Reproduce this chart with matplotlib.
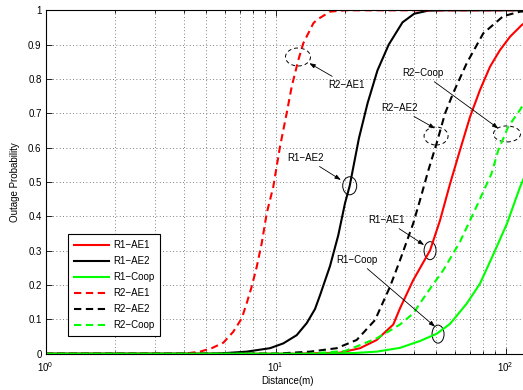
import matplotlib
matplotlib.use("Agg")
import matplotlib.pyplot as plt
from matplotlib.patches import Ellipse
from matplotlib.transforms import ScaledTranslation
from matplotlib.ticker import LogLocator, FixedLocator, NullFormatter

plt.rcParams['font.family'] = ['Liberation Sans', 'DejaVu Sans']
plt.rcParams['mathtext.fontset'] = 'custom'
plt.rcParams['mathtext.rm'] = 'Liberation Sans'
plt.rcParams['mathtext.it'] = 'Liberation Sans:italic'

# ---- data ----
r1_ae1_d = [1, 12, 19.04, 23.26, 27.49, 32.45, 34.7, 39.6, 46.9, 51.8, 57.3, 63.3, 70.0, 77.3, 85.5, 94.4, 104.4, 117.4, 125]
r1_ae1_p = [0, 0, 0.003, 0.016, 0.04, 0.085, 0.132, 0.214, 0.301, 0.388, 0.495, 0.593, 0.69, 0.768, 0.836, 0.884, 0.923, 0.957, 0.97]

r1_ae2_d = [1, 5.5, 7.48, 9.44, 10.79, 12.34, 13.64, 14.82, 15.58, 17.22, 18.71, 20.01, 20.98, 23.0, 25.1, 27.7, 31.0, 35.6, 40.0, 46.0, 55, 125]
r1_ae2_p = [0, 0, 0.006, 0.016, 0.030, 0.054, 0.089, 0.13, 0.17, 0.255, 0.345, 0.438, 0.489, 0.627, 0.73, 0.825, 0.90, 0.965, 0.99, 0.999, 1, 1]

r1_coop_d = [1, 15, 22, 27.5, 34.7, 42.4, 50.1, 57.3, 67.7, 77.3, 88.6, 101.3, 115.4, 125]
r1_coop_p = [0, 0, 0.002, 0.006, 0.017, 0.037, 0.058, 0.087, 0.146, 0.204, 0.291, 0.379, 0.485, 0.54]

r2_ae1_d = [1, 4.0, 4.69, 5.27, 5.92, 6.54, 7.12, 7.48, 7.86, 8.27, 8.69, 9.14, 9.76, 10.44, 11.16, 11.74, 12.54, 13.18, 14.57, 15.07, 17.22, 20, 125]
r2_ae1_p = [0, 0, 0.006, 0.016, 0.032, 0.064, 0.103, 0.147, 0.195, 0.253, 0.321, 0.409, 0.486, 0.603, 0.700, 0.778, 0.855, 0.904, 0.962, 0.972, 0.996, 1.0, 1.0]

r2_ae2_d = [1, 10, 14.1, 18.42, 22.5, 27.03, 31.4, 34.7, 39.6, 42.4, 46.1, 50.1, 54.5, 59.2, 67.7, 79.9, 97.6, 115.4, 125]
r2_ae2_p = [0, 0, 0.006, 0.016, 0.04, 0.098, 0.195, 0.272, 0.379, 0.447, 0.534, 0.613, 0.70, 0.76, 0.846, 0.933, 0.983, 0.996, 0.998]

r2_coop_d = [1, 14, 20, 23.26, 27.5, 31.0, 34.7, 39.6, 45.3, 53.5, 63.2, 74.5, 86.7, 92.9, 102.6, 115.4, 125]
r2_coop_p = [0, 0, 0.008, 0.025, 0.045, 0.065, 0.085, 0.117, 0.175, 0.243, 0.325, 0.427, 0.524, 0.593, 0.661, 0.71, 0.75]

labels = ['R1\u2212AE1', 'R1\u2212AE2', 'R1\u2212Coop', 'R2\u2212AE1', 'R2\u2212AE2', 'R2\u2212Coop']

# annotations: (label, text pos, arrow head, ellipse centre, ellipse size px, dashed)
annots = [
    ('R2\u2212AE1', (20.4, 0.783), (14.0, 0.846), (12.5, 0.864), (25, 18), True),
    ('R1\u2212AE2', (13.54, 0.570), (19.2, 0.506), (20.98, 0.489), (14, 18), False),
    ('R2\u2212AE2', (34.4, 0.7155), (49.3, 0.656), (49.8, 0.634), (24, 18), True),
    ('R2\u2212Coop', (43.5, 0.817), (92.9, 0.656), (101.3, 0.640), (27, 16), True),
    ('R1\u2212AE1', (30.2, 0.389), (44.2, 0.3165), (46.9, 0.30), (12, 18), False),
    ('R1\u2212Coop', (22.6, 0.273), (49.3, 0.0786), (50.8, 0.057), (12, 18), False),
]

W, H, DPI = 523, 390, 100
fig = plt.figure(figsize=(W / DPI, H / DPI), dpi=DPI)
left, bottom = 45.7 / W, 36.3 / H
width, height = 483.0 / W, 343.4 / H
ax = fig.add_axes([left, bottom, width, height])

lw = 1.5
dash = (3.5, 2.2)
ax.plot(r1_ae1_d, r1_ae1_p, color='red', lw=lw, label=labels[0])
ax.plot(r1_ae2_d, r1_ae2_p, color='black', lw=lw, label=labels[1])
ax.plot(r1_coop_d, r1_coop_p, color=(0, 1, 0), lw=lw, label=labels[2])
ax.plot(r2_ae1_d, r2_ae1_p, color='red', lw=lw, dashes=dash, label=labels[3])
ax.plot(r2_ae2_d, r2_ae2_p, color='black', lw=lw, dashes=dash, label=labels[4])
ax.plot(r2_coop_d, r2_coop_p, color=(0, 1, 0), lw=lw, dashes=dash, label=labels[5])

ax.set_xscale('log')
ax.set_xlim(1, 10 ** 2.1)
ax.set_ylim(0, 1)
ax.set_yticks([i / 10 for i in range(11)])
ax.set_yticklabels(['0', '0.1', '0.2', '0.3', '0.4', '0.5', '0.6', '0.7', '0.8', '0.9', '1'])
ax.xaxis.set_major_locator(FixedLocator([1, 10, 100]))
ax.set_xticklabels(['$\\mathdefault{10^{0}}$', '$\\mathdefault{10^{1}}$', '$\\mathdefault{10^{2}}$'])
ax.xaxis.set_minor_locator(LogLocator(base=10, subs=range(2, 10)))
ax.xaxis.set_minor_formatter(NullFormatter())

ax.tick_params(which='both', direction='in', top=True, right=True, labelsize=7, color='black')
ax.tick_params(axis='x', which='major', pad=5)
ax.tick_params(axis='y', which='major', pad=3)
ax.tick_params(which='major', length=4, width=0.6)
ax.tick_params(which='minor', length=2, width=0.6)
for s in ax.spines.values():
    s.set_linewidth(0.8)

ax.grid(True, which='major', axis='both', linestyle=(0, (1, 3)), color='0.35', lw=0.6)
ax.grid(True, which='minor', axis='x', linestyle=(0, (1, 3)), color='0.35', lw=0.6)

ax.set_xlabel('Distance(m)', fontsize=7, labelpad=1)
ax.set_ylabel('Outage Probability', fontsize=7, labelpad=6)

leg = ax.legend(loc='upper left', bbox_to_anchor=((67.7 - 45.7) / 483.0, (353.7 - 234.3) / 343.4),
                borderaxespad=0, fontsize=7, fancybox=False, framealpha=1, edgecolor='black',
                handlelength=3.6, labelspacing=0.62, handletextpad=0.5, borderpad=0.6)
leg.get_frame().set_linewidth(0.8)

for text, tpos, head, cen, size, dashed in annots:
    ax.annotate(text, xy=head, xytext=tpos, ha='center', va='center', fontsize=7,
                arrowprops=dict(arrowstyle='-|>,head_length=0.5,head_width=0.18', color='black',
                                lw=0.6, shrinkA=1, shrinkB=0))
    tr = fig.dpi_scale_trans + ScaledTranslation(cen[0], cen[1], ax.transData)
    e = Ellipse((0, 0), size[0] / DPI, size[1] / DPI, transform=tr, fill=False,
                edgecolor='black', lw=0.7, linestyle=(0, (4, 3)) if dashed else '-')
    ax.add_patch(e)

fig.savefig('out.png', dpi=DPI)
